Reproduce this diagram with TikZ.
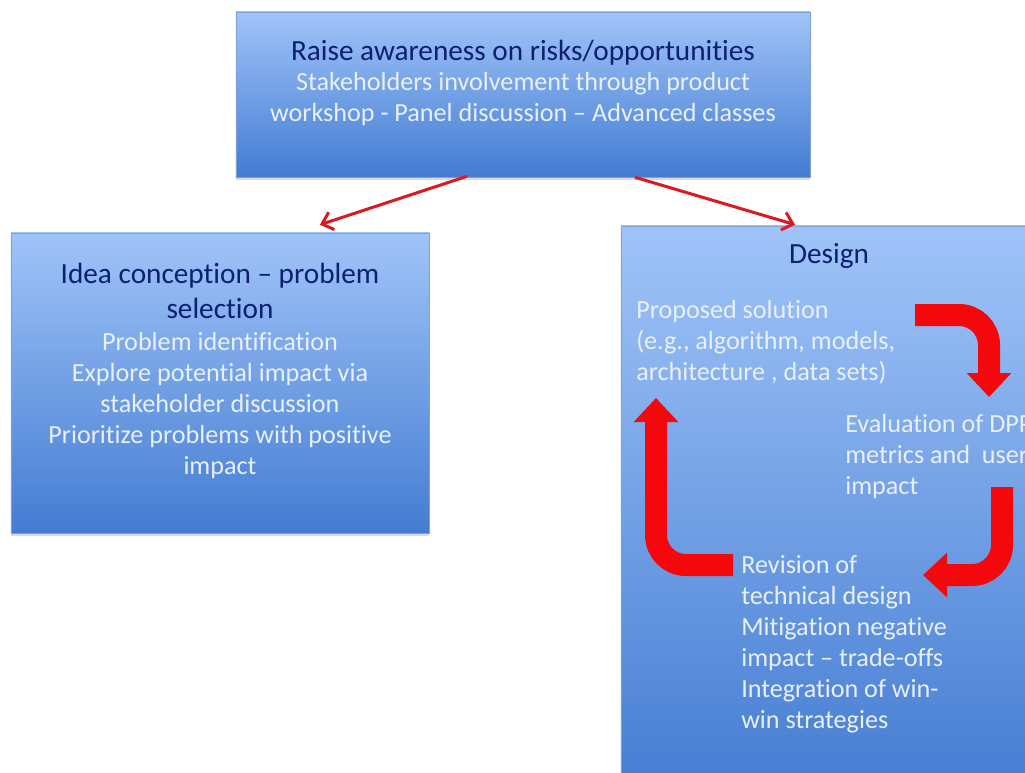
\documentclass[tikz,border=0pt]{standalone}
\usepackage{fontspec}
\setmainfont{Carlito}[Ligatures=NoCommon]
\usetikzlibrary{arrows.meta, positioning, calc, shadows}
\definecolor{boxtop}{RGB}{160,196,248}
\definecolor{boxbot}{RGB}{68,124,210}
\definecolor{boxline}{RGB}{125,162,215}
\definecolor{navy}{RGB}{14,30,112}
\definecolor{pale}{RGB}{232,240,252}
\definecolor{linkred}{RGB}{222,24,30}
\definecolor{blockred}{RGB}{245,8,12}
\tikzset{
	box/.style = {draw=boxline, line width=0.4pt, top color=boxtop, bottom color=boxbot, inner sep=0pt,
		drop shadow={opacity=0.3, shadow xshift=0pt, shadow yshift=-2pt}},
	title/.style = {text=navy, font=\fontsize{20.8}{25}\selectfont, align=center, inner sep=0pt},
	body/.style = {text=pale, font=\fontsize{18.6}{22}\selectfont, inner sep=0pt},
	link/.style = {draw=linkred, line width=0.075cm, -{Straight Barb[length=7pt, width=13pt]}},
	cyclearrow/.style = {draw=blockred, line width=0.55cm, rounded corners=0.75cm, -{Triangle[width=1.08cm, length=0.6cm]}}
}
\begin{document}
\begin{tikzpicture}[x=0.025cm, y=-0.025cm]
	\useasboundingbox (0,0) rectangle (1025,772);
	\clip (0,0) rectangle (1025,772);
	
	% boxes
	\node[box, minimum width=14.35cm, minimum height=4.125cm] (aware) at (523,94.5) {};
	\node[box, minimum width=10.45cm, minimum height=7.5cm] (idea) at (220,383) {};
	\node[box, minimum width=10.5cm, minimum height=14.35cm] (design) at (831,513) {};
	
	% texts
	\node[title, anchor=north] (awaretitle) at (523,39.6) {Raise awareness on risks/opportunities};
	\node[body, anchor=north, align=center] (awaretext) at (523,72.4)
		{Stakeholders involvement through product\\workshop - Panel discussion – Advanced classes};
	\node[title, anchor=north] (ideatitle) at (220,262.6) {Idea conception – problem\\selection};
	\node[body, anchor=north, align=center] (ideatext) at (220,332.4)
		{Problem identification\\Explore potential impact via\\stakeholder discussion\\Prioritize problems with positive\\impact};
	\node[title, anchor=north] (designtitle) at (829,242.6) {Design};
	\node[body, anchor=north west, align=left] (proposal) at (636,300.4)
		{Proposed solution\\(e.g., algorithm, models,\\architecture , data sets)};
	\node[body, anchor=north west, align=left] (evaluation) at (845,414.4)
		{Evaluation of DPP\\metrics and \ user\\impact};
	\node[body, anchor=north west, align=left] (revision) at (741,555.4)
		{Revision of\\technical design\\Mitigation negative\\impact – trade-offs\\Integration of win-\\win strategies};
	
	% links between boxes
	\draw[link] ($(aware.south)+(-56,-1)$) -- ($(idea.north)+(100,-8)$);
	\draw[link] ($(aware.south)+(112,0)$) -- ($(design.north)+(-36,-1)$);
	
	% design cycle
	\coordinate (c1) at (915,315);
	\coordinate (c2) at (1002,487);
	\coordinate (c3) at (733,565);
	\draw[cyclearrow] (c1) -- (989,315) -- (989,397);
	\draw[cyclearrow] (c2) -- (1002,575) -- (923,575);
	\draw[cyclearrow] (c3) -- (656,565) -- (656,398);
\end{tikzpicture}
\end{document}
